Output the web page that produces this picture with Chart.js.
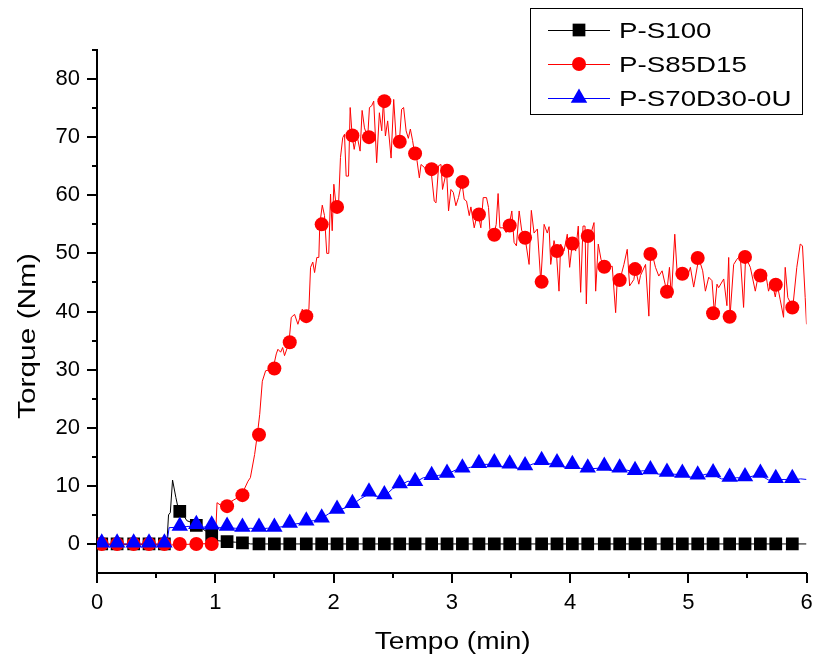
<!DOCTYPE html>
<html>
<head>
<meta charset="utf-8">
<script src="https://cdn.jsdelivr.net/npm/chart.js@4/dist/chart.umd.min.js"></script>
<style>
  html, body { margin: 0; padding: 0; background: #fff; }
</style>
</head>
<body>
<canvas id="myChart" width="816" height="661"></canvas>
<script>
// symbol positions (every 10th sample in the original)
const markerTimes = [0.04, 0.17, 0.31, 0.44, 0.57, 0.70, 0.84, 0.97, 1.10, 1.23, 1.37, 1.50, 1.63, 1.77, 1.90,
  2.03, 2.16, 2.30, 2.43, 2.56, 2.69, 2.83, 2.96, 3.09, 3.23, 3.36, 3.49, 3.62, 3.76, 3.89,
  4.02, 4.15, 4.29, 4.42, 4.55, 4.68, 4.82, 4.95, 5.08, 5.21, 5.35, 5.48, 5.61, 5.74, 5.88];

const blackMarkers = [0, 0, 0, 0, 0, 5.6, 3.2, 1.5, 0.4, 0.2, 0, 0, 0, 0, 0,
  0, 0, 0, 0, 0, 0, 0, 0, 0, 0, 0, 0, 0, 0, 0,
  0, 0, 0, 0, 0, 0, 0, 0, 0, 0, 0, 0, 0, 0, 0];
const redMarkers = [0, 0, 0, 0, 0, 0, 0, 0, 6.5, 8.4, 18.8, 30.2, 34.7, 39.2, 55.0,
  58.0, 70.3, 70.0, 76.2, 69.2, 67.2, 64.5, 64.2, 62.3, 56.7, 53.2, 54.8, 52.7, 45.1, 50.4,
  51.7, 53.0, 47.7, 45.4, 47.3, 49.9, 43.4, 46.5, 49.2, 39.7, 39.1, 49.4, 46.2, 44.6, 40.7];
const blueMarkers = [0.2, 0.2, 0.2, 0.2, 0.2, 3.1, 3.4, 3.3, 3.1, 2.9, 2.9, 2.9, 3.6, 4.0, 4.5,
  6.0, 7.0, 9.0, 8.5, 10.4, 10.8, 11.8, 12.2, 13.1, 13.9, 14.0, 13.8, 13.5, 14.4, 14.0,
  13.7, 13.1, 13.4, 13.1, 12.7, 12.8, 12.4, 12.2, 11.9, 12.3, 11.5, 11.6, 12.2, 11.3, 11.3];

// raw traces [time, torque]
const blackTrace = [[0, -0.2], [0.30, -0.1], [0.59, -0.2], [0.605, 5.0], [0.62, 5.4], [0.639, 11.0], [0.667, 8.0],
  [0.69, 5.8], [0.73, 5.0], [0.76, 4.0], [0.80, 3.7], [0.836, 3.2], [0.89, 2.6], [0.93, 2.1], [0.97, 1.5],
  [1.00, 0.6], [1.05, 0.5], [1.10, 0.4], [1.17, 0.3], [1.234, 0.2], [1.30, 0.0], [6.0, 0.0]];

const redTrace = [[0.00, -0.2], [0.30, 0.0], [0.60, -0.2], [0.85, 0.0], [1.00, 0.1], [1.015, 7.1], [1.05, 6.6],
  [1.09, 6.8], [1.15, 7.5], [1.22, 8.3], [1.277, 10.8], [1.297, 11.4], [1.333, 15.4], [1.356, 18.8], [1.376, 22.3],
  [1.398, 28.0], [1.426, 29.8], [1.488, 30.1], [1.516, 32.7], [1.530, 33.5], [1.553, 33.0], [1.570, 33.8],
  [1.586, 32.4], [1.623, 34.6], [1.643, 39.0], [1.671, 39.5], [1.699, 37.8], [1.736, 40.4], [1.755, 39.1],
  [1.792, 40.4], [1.806, 47.6], [1.825, 48.5], [1.840, 46.7], [1.859, 49.3], [1.876, 49.3], [1.884, 55.0],
  [1.905, 58.3], [1.924, 56.5], [1.943, 50.0], [1.960, 50.0], [1.975, 60.2], [1.989, 53.9], [2.003, 61.9],
  [2.023, 57.9], [2.042, 58.0], [2.059, 66.5], [2.078, 69.9], [2.093, 70.5], [2.107, 63.3], [2.127, 63.3],
  [2.141, 75.1], [2.158, 70.2], [2.175, 67.9], [2.197, 70.5], [2.225, 67.6], [2.242, 74.6], [2.262, 71.6],
  [2.289, 69.9], [2.304, 75.1], [2.323, 75.4], [2.340, 76.2], [2.365, 65.6], [2.388, 74.2], [2.408, 71.1],
  [2.422, 76.2], [2.439, 70.2], [2.458, 72.8], [2.487, 66.4], [2.509, 76.5], [2.529, 69.9], [2.557, 69.2],
  [2.576, 74.8], [2.593, 75.1], [2.614, 71.1], [2.633, 69.8], [2.650, 71.4], [2.669, 69.4], [2.686, 67.2],
  [2.706, 66.0], [2.726, 63.0], [2.740, 65.3], [2.768, 64.8], [2.793, 64.0], [2.824, 64.5], [2.852, 59.0],
  [2.867, 58.7], [2.889, 65.1], [2.909, 65.3], [2.922, 61.0], [2.956, 64.2], [2.973, 57.3], [2.993, 61.0],
  [3.013, 60.5], [3.035, 58.2], [3.057, 59.6], [3.086, 62.3], [3.105, 59.3], [3.125, 59.0], [3.148, 56.5],
  [3.162, 58.0], [3.190, 54.4], [3.207, 56.0], [3.224, 56.7], [3.246, 54.4], [3.266, 59.6], [3.294, 59.6],
  [3.311, 57.9], [3.322, 54.2], [3.356, 53.2], [3.376, 55.0], [3.392, 60.3], [3.407, 54.4], [3.435, 54.4],
  [3.460, 53.6], [3.485, 54.8], [3.508, 57.3], [3.527, 51.9], [3.547, 51.3], [3.570, 57.3], [3.591, 54.0],
  [3.620, 52.7], [3.654, 48.1], [3.673, 57.4], [3.696, 53.5], [3.724, 54.2], [3.753, 45.1], [3.781, 55.0],
  [3.808, 53.5], [3.823, 54.6], [3.837, 48.1], [3.865, 52.2], [3.884, 50.4], [3.907, 43.5], [3.921, 51.6],
  [3.949, 50.4], [3.977, 53.3], [3.997, 47.6], [4.019, 51.7], [4.048, 50.4], [4.070, 54.7], [4.090, 43.3],
  [4.110, 54.7], [4.127, 54.7], [4.138, 41.3], [4.154, 53.0], [4.175, 53.3], [4.203, 55.3], [4.217, 43.5],
  [4.239, 51.6], [4.262, 49.0], [4.287, 47.7], [4.315, 47.6], [4.357, 47.8], [4.386, 39.8], [4.399, 45.3],
  [4.422, 45.4], [4.456, 48.1], [4.484, 50.7], [4.504, 44.4], [4.540, 45.5], [4.554, 47.3], [4.582, 44.7],
  [4.596, 46.2], [4.639, 48.1], [4.667, 39.2], [4.683, 51.0], [4.723, 47.6], [4.751, 46.1], [4.779, 47.0],
  [4.819, 43.4], [4.841, 47.6], [4.857, 42.4], [4.886, 53.3], [4.905, 47.0], [4.956, 46.5], [4.990, 45.8],
  [5.018, 47.6], [5.046, 44.2], [5.089, 49.2], [5.122, 47.0], [5.145, 43.5], [5.173, 45.9], [5.201, 45.3],
  [5.221, 39.7], [5.243, 44.7], [5.257, 44.1], [5.300, 45.6], [5.327, 41.0], [5.342, 49.3], [5.353, 39.1],
  [5.384, 48.1], [5.412, 49.0], [5.440, 49.6], [5.468, 40.7], [5.485, 49.4], [5.525, 47.6], [5.567, 43.5],
  [5.595, 46.5], [5.620, 46.2], [5.651, 47.0], [5.679, 43.5], [5.707, 45.3], [5.736, 42.5], [5.753, 44.6],
  [5.778, 42.0], [5.806, 39.0], [5.820, 47.6], [5.842, 42.4], [5.884, 40.7], [5.918, 47.6], [5.947, 51.6],
  [5.966, 51.3], [5.989, 42.4], [6.00, 37.8]];

const blueTrace = [[0, 0.0], [0.59, 0.0], [0.61, 2.8], [0.70, 2.9], [0.76, 3.0], [0.84, 3.1], [0.90, 2.9],
  [0.97, 3.0], [1.03, 2.8], [1.10, 2.8], [1.17, 2.7], [1.23, 2.6], [1.30, 2.7], [1.37, 2.6], [1.44, 2.7],
  [1.50, 2.7], [1.57, 3.0], [1.63, 3.3], [1.70, 3.5], [1.77, 3.8], [1.83, 4.0], [1.90, 4.4], [1.96, 5.2],
  [2.03, 5.8], [2.10, 6.2], [2.16, 6.8], [2.23, 7.8], [2.30, 8.6], [2.36, 8.2], [2.43, 8.2], [2.50, 9.5],
  [2.56, 10.1], [2.63, 10.8], [2.69, 10.6], [2.76, 11.4], [2.83, 11.5], [2.89, 11.8], [2.96, 12.0], [3.03, 12.7],
  [3.09, 12.8], [3.16, 13.2], [3.23, 13.6], [3.29, 13.7], [3.36, 13.7], [3.42, 13.3], [3.49, 13.6], [3.55, 13.0],
  [3.62, 13.2], [3.69, 13.8], [3.76, 14.0], [3.82, 13.8], [3.89, 13.8], [3.95, 13.2], [4.02, 13.4], [4.09, 13.0],
  [4.15, 12.9], [4.22, 13.0], [4.29, 13.1], [4.35, 12.6], [4.42, 12.8], [4.48, 12.7], [4.55, 12.4], [4.62, 12.6],
  [4.68, 12.5], [4.75, 12.0], [4.82, 12.1], [4.88, 12.0], [4.95, 11.9], [5.01, 11.5], [5.08, 11.6], [5.15, 12.0],
  [5.21, 11.9], [5.28, 11.2], [5.35, 11.2], [5.41, 11.4], [5.48, 11.3], [5.55, 11.7], [5.61, 11.8], [5.68, 11.0],
  [5.74, 11.0], [5.81, 11.1], [5.88, 11.0], [5.95, 11.2], [6.00, 11.1]];

const xMajor = [0, 1, 2, 3, 4, 5, 6];
const xMinor = [0.5, 1.5, 2.5, 3.5, 4.5, 5.5];
const yMajor = [0, 10, 20, 30, 40, 50, 60, 70, 80];
const yMinor = [5, 15, 25, 35, 45, 55, 65, 75, 85];

const FONT = "'Liberation Sans', Arial, sans-serif";

function toPoints(xs, ys) {
  return xs.map((x, i) => ({ x: x, y: ys[i] }));
}
function fromPairs(arr) {
  return arr.map((p) => ({ x: p[0], y: p[1] }));
}

const series = [
  { label: "P-S100", color: "#000000", style: "rect", radius: 9, trace: blackTrace, marks: blackMarkers },
  { label: "P-S85D15", color: "#ff0000", style: "circle", radius: 7, trace: redTrace, marks: redMarkers },
  { label: "P-S70D30-0U", color: "#0000ff", style: "triangle", radius: 9.5, trace: blueTrace, marks: blueMarkers },
];

const datasets = [];
// lower "order" is drawn on top: blue symbols over red over black
const symOrder = [2, 1, 0];
series.forEach((s, i) => {
  datasets.push({
    label: s.label + " line",
    data: fromPairs(s.trace),
    showLine: true,
    borderColor: s.color,
    borderWidth: 1,
    pointRadius: 0,
    pointHoverRadius: 0,
    tension: 0,
    order: 10 - i,
  });
  datasets.push({
    label: s.label,
    data: toPoints(markerTimes, s.marks),
    showLine: false,
    pointStyle: s.style,
    pointRadius: s.radius,
    pointHoverRadius: s.radius,
    pointBackgroundColor: s.color,
    pointBorderWidth: 0,
    order: symOrder[i],
  });
});

const decor = {
  id: "decor",
  afterDraw(chart) {
    const ctx = chart.ctx;
    const xs = chart.scales.x;
    const ys = chart.scales.y;
    const area = chart.chartArea;
    ctx.save();

    // tick marks, outward
    ctx.strokeStyle = "#000";
    ctx.lineWidth = 2;
    ctx.beginPath();
    xMajor.forEach((v) => { const p = Math.round(xs.getPixelForValue(v)); ctx.moveTo(p, area.bottom); ctx.lineTo(p, area.bottom + 10); });
    xMinor.forEach((v) => { const p = Math.round(xs.getPixelForValue(v)); ctx.moveTo(p, area.bottom); ctx.lineTo(p, area.bottom + 5); });
    yMajor.forEach((v) => { const p = Math.round(ys.getPixelForValue(v)); ctx.moveTo(area.left, p); ctx.lineTo(area.left - 10, p); });
    yMinor.forEach((v) => { const p = Math.round(ys.getPixelForValue(v)); ctx.moveTo(area.left, p); ctx.lineTo(area.left - 5, p); });
    ctx.stroke();

    // axis titles
    ctx.fillStyle = "#000";
    ctx.font = "23px " + FONT;
    ctx.textAlign = "center";
    ctx.textBaseline = "middle";
    ctx.save();
    ctx.translate((area.left + area.right) / 2 + 1, 643);
    ctx.scale(1.22, 1);
    ctx.fillText("Tempo (min)", 0, 0);
    ctx.restore();
    ctx.save();
    ctx.translate(29, 336);
    ctx.rotate(-Math.PI / 2);
    ctx.scale(1.3, 1);
    ctx.fillText("Torque (Nm)", 0, 0);
    ctx.restore();

    // legend box
    ctx.strokeStyle = "#000";
    ctx.lineWidth = 1;
    ctx.strokeRect(530.5, 8.5, 272, 106);
    series.forEach((s, i) => {
      const y = 30 + i * 34;
      ctx.strokeStyle = s.color;
      ctx.lineWidth = 1;
      ctx.beginPath();
      ctx.moveTo(548, y + 0.5);
      ctx.lineTo(610, y + 0.5);
      ctx.stroke();
      ctx.fillStyle = s.color;
      Chart.helpers.drawPoint(ctx, { pointStyle: s.style, radius: s.radius, rotation: 0, borderWidth: 0 }, 579, y);
      ctx.save();
      ctx.fillStyle = "#000";
      ctx.font = "22px " + FONT;
      ctx.textAlign = "left";
      ctx.textBaseline = "alphabetic";
      ctx.translate(619, y + 8);
      ctx.scale(1.26, 1);
      ctx.fillText(s.label, 0, 0);
      ctx.restore();
    });
    ctx.restore();
  },
};

const ctx = document.getElementById("myChart").getContext("2d");
const myChart = new Chart(ctx, {
  type: "scatter",
  data: { datasets: datasets },
  plugins: [decor],
  options: {
    responsive: false,
    animation: false,
    events: [],
    layout: { padding: { top: 50, right: 8, left: 0, bottom: 0 } },
    plugins: { legend: { display: false }, tooltip: { enabled: false } },
    scales: {
      x: {
        type: "linear",
        min: 0,
        max: 6,
        afterBuildTicks: (scale) => { scale.ticks = xMajor.map((v) => ({ value: v })); },
        afterFit: (scale) => { scale.height = 88; scale.paddingLeft = 0; scale.paddingRight = 0; },
        grid: { display: false, drawTicks: false },
        border: { display: true, color: "#000", width: 2 },
        ticks: { color: "#000", font: { size: 22, family: FONT }, padding: 17, maxRotation: 0 },
      },
      y: {
        type: "linear",
        min: -5,
        max: 85,
        afterBuildTicks: (scale) => { scale.ticks = yMajor.map((v) => ({ value: v })); },
        afterFit: (scale) => { scale.width = 97; scale.paddingTop = 0; scale.paddingBottom = 0; },
        grid: { display: false, drawTicks: false },
        border: { display: true, color: "#000", width: 2 },
        ticks: { color: "#000", font: { size: 22, family: FONT }, padding: 17 },
      },
    },
  },
});
</script>
</body>
</html>
